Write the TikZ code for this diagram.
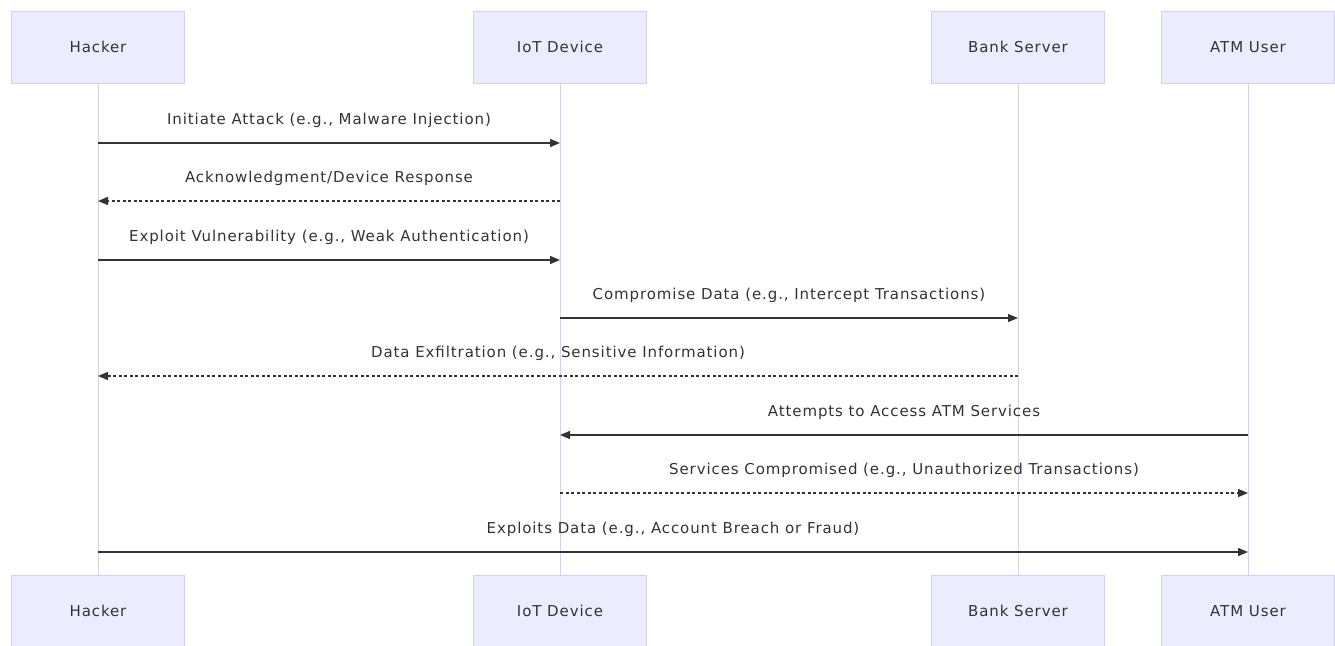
\documentclass[tikz,border=0pt]{standalone}
\usepackage{fontspec}
\setmainfont[LetterSpace=6]{DejaVu Sans}
\usetikzlibrary{arrows.meta}
\definecolor{actfill}{HTML}{ECECFF}
\definecolor{actline}{HTML}{D6D0F0}
\definecolor{lifel}{HTML}{D4D2E6}
\definecolor{txt}{HTML}{333333}
\tikzset{
  actor/.style={draw=actline, fill=actfill, line width=0.8pt, minimum width=173pt, minimum height=72pt, inner sep=0pt, font=\fontsize{15}{17}\selectfont, text=txt},
  lifeline/.style={draw=lifel, line width=1pt},
  msg/.style={draw=txt, line width=1.4pt, -{Triangle[length=10pt,width=8pt]}},
  reply/.style={msg, dash pattern=on 3pt off 2.5pt},
  lbl/.style={font=\fontsize{15}{17}\selectfont, text=txt, inner sep=0pt}
}
\begin{document}
\begin{tikzpicture}[x=1pt,y=-1pt]
\useasboundingbox[fill=white] (0,0) rectangle (1335,645);
% top actors
\node[actor] (hT) at (98,47) {Hacker};
\node[actor] (iT) at (560,47) {IoT Device};
\node[actor] (bT) at (1018,47) {Bank Server};
\node[actor] (aT) at (1248,47) {ATM User};
% bottom actors
\node[actor] (hB) at (98,611) {Hacker};
\node[actor] (iB) at (560,611) {IoT Device};
\node[actor] (bB) at (1018,611) {Bank Server};
\node[actor] (aB) at (1248,611) {ATM User};
% lifelines
\draw[lifeline] (hT.south) -- (hB.north);
\draw[lifeline] (iT.south) -- (iB.north);
\draw[lifeline] (bT.south) -- (bB.north);
\draw[lifeline] (aT.south) -- (aB.north);
% message coordinates
\foreach \n/\y in {1/143,2/201,3/260,4/318,5/376,6/435,7/493,8/552}{
  \coordinate (h\n) at (98,\y);
  \coordinate (i\n) at (560,\y);
  \coordinate (b\n) at (1018,\y);
  \coordinate (a\n) at (1248,\y);
}
\draw[msg] (h1) -- (i1) node[lbl, midway, above=19pt, anchor=base] {Initiate Attack (e.g., Malware Injection)};
\draw[reply] (i2) -- (h2) node[lbl, midway, above=19pt, anchor=base] {Acknowledgment/Device Response};
\draw[msg] (h3) -- (i3) node[lbl, midway, above=19pt, anchor=base] {Exploit Vulnerability (e.g., Weak Authentication)};
\draw[msg] (i4) -- (b4) node[lbl, midway, above=19pt, anchor=base] {Compromise Data (e.g., Intercept Transactions)};
\draw[reply] (b5) -- (h5) node[lbl, midway, above=19pt, anchor=base] {Data Exfiltration (e.g., Sensitive Information)};
\draw[msg] (a6) -- (i6) node[lbl, midway, above=19pt, anchor=base] {Attempts to Access ATM Services};
\draw[reply] (i7) -- (a7) node[lbl, midway, above=19pt, anchor=base] {Services Compromised (e.g., Unauthorized Transactions)};
\draw[msg] (h8) -- (a8) node[lbl, midway, above=19pt, anchor=base] {Exploits Data (e.g., Account Breach or Fraud)};
\end{tikzpicture}
\end{document}
